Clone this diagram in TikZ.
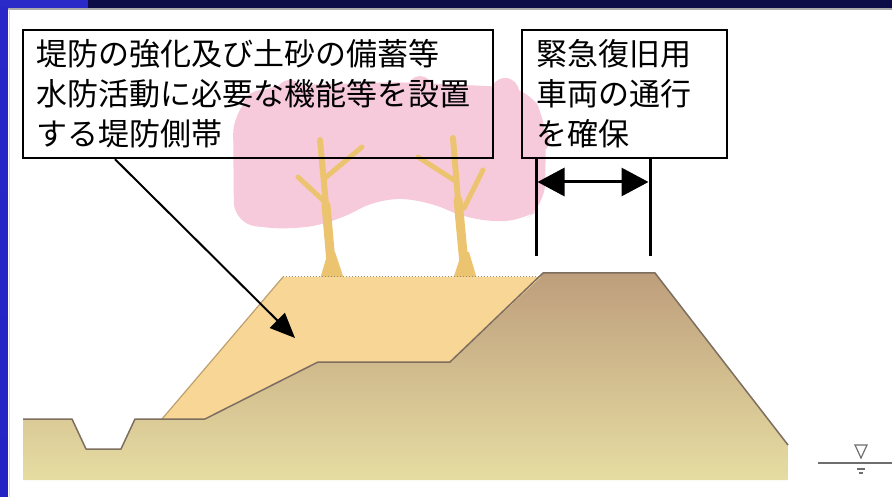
\documentclass[tikz,border=0pt]{standalone}
\usepackage{fontspec}
\setmainfont{Noto Sans CJK JP}
\usetikzlibrary{arrows.meta}
\tikzset{
  callout/.style={draw=black, line width=2.2pt, anchor=north west, align=left,
    inner xsep=13pt, inner ysep=0pt, minimum height=128pt,
    font=\fontsize{31}{40}\selectfont},
  pointer/.style={line width=2pt, -{Triangle[length=25pt,width=21pt]}},
  dimline/.style={line width=3pt},
  trunk/.style={draw={rgb, 255:red, 236; green, 196; blue, 112}, line cap=round},
  trunkbase/.style={fill={rgb, 255:red, 236; green, 196; blue, 112}},
  blossom/.style={fill={rgb, 255:red, 247; green, 202; blue, 219}},
  gaugeline/.style={draw={rgb, 255:red, 110; green, 110; blue, 110}, line width=1.2pt}
}

\begin{document}
\begin{tikzpicture}[x=1pt,y=1pt,yscale=-1,xscale=1]
\useasboundingbox (0,0) rectangle (892,497);

%Frame: dark bar, blue strip, white panel
\fill [color={rgb, 255:red, 12; green, 12; blue, 72 }] (0,0) rectangle (892,8) ;
\fill [color={rgb, 255:red, 42; green, 42; blue, 200 }] (0,0) rectangle (88,8) ;
\shade [top color={rgb, 255:red, 40; green, 40; blue, 200 }, middle color={rgb, 255:red, 6; green, 6; blue, 30 }, bottom color={rgb, 255:red, 36; green, 36; blue, 196 }] (0,8) rectangle (8,497) ;
\fill [white] (8,8) rectangle (892,497) ;
\draw [color={rgb, 255:red, 170; green, 170; blue, 170 }, line width=1.5pt] (8,9) -- (892,9) ;
\draw [color={rgb, 255:red, 220; green, 220; blue, 220 }, line width=1pt] (9,9) -- (9,497) ;

%Shape: Polygon - blossom canopy
\fill [blossom, rounded corners=22pt] (234,224) -- (233,112) -- (262,86) -- (400,82) -- (528,88) -- (546,120) -- (545,205) -- (522,222) -- (470,220) -- (425,200) -- (380,198) -- (335,222) -- (290,230) -- cycle ;
\foreach \cx/\cy/\r in {262/110/20, 290/94/14, 420/88/12, 505/92/14, 538/140/12}
  \fill [blossom] (\cx,\cy) circle (\r) ;

%Straight Lines - left tree
\fill [trunkbase] (320,279) -- (344,279) -- (335,252) -- (328,252) -- cycle ;
\draw [trunk, line width=9pt] (332,274) -- (326,205) ;
\draw [trunk, line width=6pt] (326,205) -- (320,140) ;
\draw [trunk, line width=5pt] (327,204) -- (298,177) ;
\draw [trunk, line width=5pt] (325,178) -- (362,147) ;

%Straight Lines - right tree
\fill [trunkbase] (453,279) -- (477,279) -- (469,252) -- (462,252) -- cycle ;
\draw [trunk, line width=9pt] (465,274) -- (458,200) ;
\draw [trunk, line width=6pt] (458,200) -- (453,138) ;
\draw [trunk, line width=5pt] (457,182) -- (418,157) ;
\draw [trunk, line width=5pt] (464,208) -- (483,170) ;

%Shape: Polygon - embankment and ground
\shade [top color={rgb, 255:red, 190; green, 158; blue, 124 }, bottom color={rgb, 255:red, 230; green, 221; blue, 162 }] (23,419) -- (72,419) -- (86,449) -- (121,449) -- (135,419) -- (205,419) -- (318,362) -- (450,362) -- (543,273) -- (655,273) -- (788,445) -- (788,480) -- (23,480) -- cycle ;
%Shape: Polygon - side belt
\fill [color={rgb, 255:red, 247; green, 214; blue, 150 }] (162,419) -- (283,277) -- (541,277) -- (450,362) -- (318,362) -- (205,419) -- cycle ;
\draw [color={rgb, 255:red, 190; green, 160; blue, 110 }, line width=1.2pt] (162,419) -- (283,277) ;
\draw [color={rgb, 255:red, 150; green, 140; blue, 120 }, line width=1pt, dotted] (283,277) -- (541,277) ;
%Straight Lines - ground profile
\draw [color={rgb, 255:red, 125; green, 110; blue, 95 }, line width=1.5pt, line join=round] (23,419) -- (72,419) -- (86,449) -- (121,449) -- (135,419) -- (205,419) -- (318,362) -- (450,362) -- (543,273) -- (655,273) -- (788,445) ;

%Water level mark
\draw [gaugeline] (818,463) -- (892,463) ;
\draw [gaugeline] (855,445) -- (867,445) -- (861,458) -- cycle ;
\draw [gaugeline] (857,469) -- (865,469) ;
\draw [gaugeline] (859,473) -- (863,473) ;

%Callouts
\node [callout, text width=444pt] (belt) at (22,29) {堤防の強化及び土砂の備蓄等\\水防活動に必要な機能等を設置\\する堤防側帯};
\node [callout, text width=177pt, inner xsep=14pt] (road) at (521,29) {緊急復旧用\\車両の通行\\を確保};

\coordinate (beltTip) at (295,338) ;
\draw [pointer] ([xshift=93pt]belt.south west) -- (beltTip) ;

%Crown width
\coordinate (crownL) at (536,256) ;
\coordinate (crownR) at (650,256) ;
\draw [dimline] (crownL) -- (crownL |- road.south) ;
\draw [dimline] (crownR) -- (crownR |- road.south) ;
\coordinate (spanL) at (537.5,182) ;
\coordinate (spanR) at (648.5,182) ;
\draw [dimline, {Triangle[length=27pt,width=28pt]}-{Triangle[length=27pt,width=28pt]}] (spanL) -- (spanR) ;
\end{tikzpicture}
\end{document}
